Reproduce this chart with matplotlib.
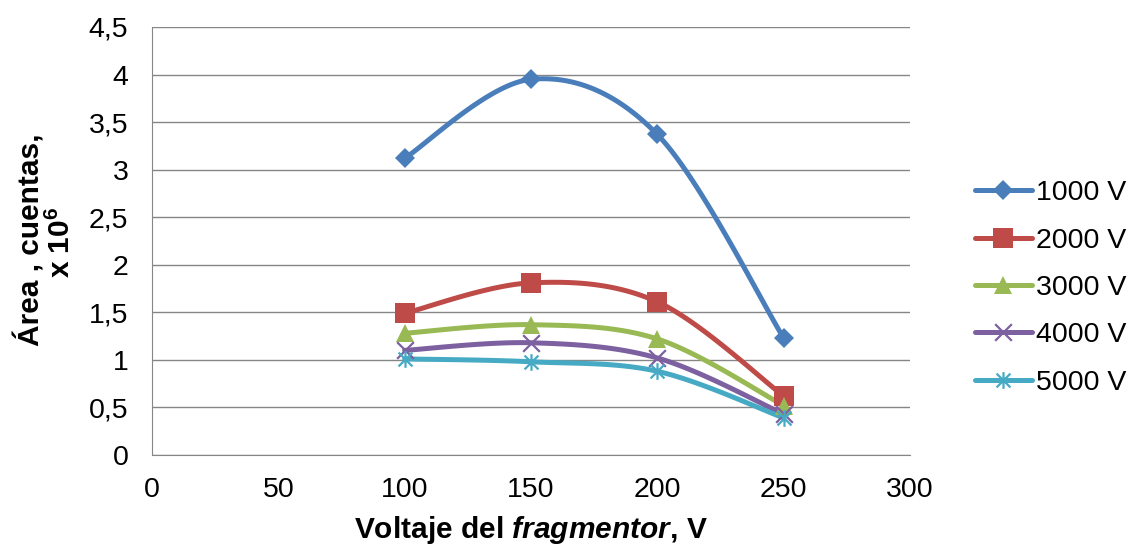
import numpy as np
import matplotlib
matplotlib.use("Agg")
import matplotlib.pyplot as plt
from matplotlib.path import Path

plt.rcParams['font.family'] = ['Liberation Sans', 'DejaVu Sans']
plt.rcParams['mathtext.fontset'] = 'custom'
plt.rcParams['mathtext.rm'] = 'Liberation Sans:bold'
plt.rcParams['mathtext.it'] = 'Liberation Sans:bold:italic'
plt.rcParams['mathtext.bf'] = 'Liberation Sans:bold'

x = [100, 150, 200, 250]
series_names = ["1000 V", "2000 V", "3000 V", "4000 V", "5000 V"]
v1000 = [3.12, 3.95, 3.37, 1.23]
v2000 = [1.49, 1.81, 1.61, 0.62]
v3000 = [1.28, 1.37, 1.22, 0.52]
v4000 = [1.10, 1.18, 1.02, 0.43]
v5000 = [1.01, 0.98, 0.88, 0.39]
xticks = [0, 50, 100, 150, 200, 250, 300]
yticks = [0, 0.5, 1, 1.5, 2, 2.5, 3, 3.5, 4, 4.5]
ytick_labels = ["0", "0,5", "1", "1,5", "2", "2,5", "3", "3,5", "4", "4,5"]

colors = ["#4A7EBB", "#BE4B48", "#98B954", "#7D60A0", "#46AAC5"]

star = Path([(-1, -1), (1, 1), (-1, 1), (1, -1), (0, -1.2), (0, 1.2)],
            [Path.MOVETO, Path.LINETO, Path.MOVETO, Path.LINETO, Path.MOVETO, Path.LINETO])
xmark = Path([(-1, -1), (1, 1), (-1, 1), (1, -1)],
             [Path.MOVETO, Path.LINETO, Path.MOVETO, Path.LINETO])
markers = ["D", "s", "^", xmark, star]
msizes = [10, 14, 13, 12, 12]


def smooth(xs, ys, n=40):
    # Catmull-Rom style Bezier smoothing (like spreadsheet smoothed lines)
    xs = np.asarray(xs, float); ys = np.asarray(ys, float)
    px = np.concatenate([[xs[0]], xs, [xs[-1]]])
    py = np.concatenate([[ys[0]], ys, [ys[-1]]])
    ox, oy = [], []
    for i in range(1, len(px) - 2):
        p0 = np.array([px[i - 1], py[i - 1]]); p1 = np.array([px[i], py[i]])
        p2 = np.array([px[i + 1], py[i + 1]]); p3 = np.array([px[i + 2], py[i + 2]])
        c1 = p1 + (p2 - p0) / 6.0
        c2 = p2 - (p3 - p1) / 6.0
        t = np.linspace(0, 1, n)[:, None]
        b = (1 - t) ** 3 * p1 + 3 * (1 - t) ** 2 * t * c1 + 3 * (1 - t) * t ** 2 * c2 + t ** 3 * p2
        ox.extend(b[:, 0]); oy.extend(b[:, 1])
    return np.array(ox), np.array(oy)


W, H = 1133, 546
fig = plt.figure(figsize=(11.33, 5.46), dpi=100)
ax = fig.add_axes([152 / W, 91 / H, 758 / W, 428 / H])

all_vals = [v1000, v2000, v3000, v4000, v5000]
for name, vals, c, m, ms in zip(series_names, all_vals, colors, markers, msizes):
    sx, sy = smooth(x, vals)
    ax.plot(sx, sy, color=c, lw=3.6, solid_capstyle='round', zorder=3)
    mew = 1.6 if m in (xmark, star) else 0
    ax.plot(x, vals, linestyle='none', marker=m, color=c, markersize=ms,
            markeredgewidth=mew, markeredgecolor=c, zorder=4)
    ax.plot([], [], color=c, lw=3.6, marker=m, markersize=ms, markeredgewidth=mew,
            markeredgecolor=c, solid_capstyle='round', label=name)

ax.set_xlim(0, 300)
ax.set_ylim(0, 4.5)
ax.set_xticks(xticks)
ax.set_yticks(yticks)
ax.set_yticklabels(ytick_labels)
ax.tick_params(axis='both', labelsize=20.5, labelcolor='black', length=0)
ax.tick_params(axis='x', pad=16.1)
ax.tick_params(axis='y', pad=17.0)
ax.yaxis.grid(True, color='#868686', lw=1)
ax.set_axisbelow(True)
for s in ['top', 'right']:
    ax.spines[s].set_visible(False)
for s in ['left', 'bottom']:
    ax.spines[s].set_color('#868686')

ax.set_xlabel(r"Voltaje del $\mathit{fragmentor}$, V", fontsize=21.5, fontweight='bold',
              va='baseline')
ax.xaxis.set_label_coords(0.5, -(538 - 455) / 428)

fig.text(40 / W, 1 - 240 / H, "Área , cuentas,", rotation=90, ha='center', va='baseline',
         rotation_mode='anchor', fontsize=21.5, fontweight='bold')
fig.text(70 / W, 1 - 242 / H, r"x 10$^{6}$", rotation=90, ha='center', va='baseline',
         rotation_mode='anchor', fontsize=21.5, fontweight='bold')

ax.legend(loc='center left', bbox_to_anchor=(975 / W, 1 - 288 / H),
          bbox_transform=fig.transFigure, frameon=False, fontsize=20.5,
          handlelength=2.0, labelspacing=0.75, handletextpad=0.15,
          borderpad=0, borderaxespad=0)

fig.savefig("out.png", dpi=100)
